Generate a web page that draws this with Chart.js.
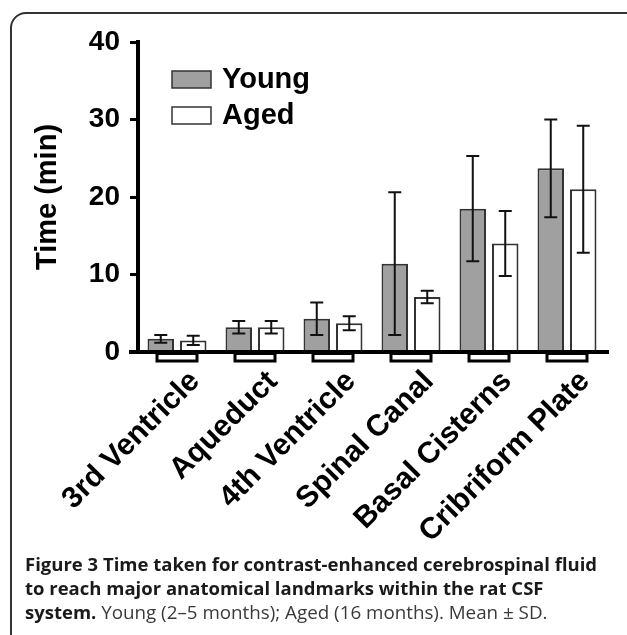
<!DOCTYPE html>
<html>
<head>
<meta charset="utf-8">
<script src="https://cdn.jsdelivr.net/npm/chart.js@4.4.1/dist/chart.umd.min.js"></script>
<style>
    html, body { margin: 0; padding: 0; background: #fff; }
    body { width: 627px; height: 635px; position: relative; overflow: hidden; }
    #frame {
        position: absolute; left: 10px; top: 12px; width: 680px; height: 700px;
        border: 2px solid #333; border-top-left-radius: 16px; box-sizing: border-box;
    }
    #chartBox { position: absolute; left: 0; top: 0; width: 627px; height: 560px; }
    #caption {
        position: absolute; left: 25px; top: 552px; width: 610px; margin: 0; white-space: nowrap;
        font-family: "Open Sans", sans-serif; font-size: 18.8px; line-height: 24px; color: #3a3a3a;
    }
    #caption b { font-weight: 700; font-size: 18.5px; color: #1a1a1a; }
</style>
</head>
<body>
<div id="frame"></div>
<div id="chartBox"><canvas id="timeChart"></canvas></div>
<p id="caption"><b>Figure 3 Time taken for contrast-enhanced cerebrospinal fluid<br>to reach major anatomical landmarks within the rat CSF<br>system.</b> Young (2–5 months); Aged (16 months). Mean ± SD.</p>
<script>
var landmarks = ['3rd Ventricle', 'Aqueduct', '4th Ventricle', 'Spinal Canal', 'Basal Cisterns', 'Cribriform Plate'];
var youngMean = [1.7, 3.2, 4.3, 11.4, 18.5, 23.7];
var youngSd = [0.5, 0.8, 2.1, 9.2, 6.8, 6.3];
var agedMean = [1.5, 3.2, 3.7, 7.1, 14.0, 21.0];
var agedSd = [0.6, 0.8, 0.9, 0.8, 4.2, 8.2];
var yTicks = [0, 10, 20, 30, 40];

var boldFont = '"Liberation Sans", Arial, sans-serif';

// error bars (mean +/- SD) on top of each bar
var errorBars = {
    id: 'errorBars',
    afterDatasetsDraw: function (chart) {
        var ctx = chart.ctx;
        var y = chart.scales.y;
        var sds = [youngSd, agedSd];
        ctx.save();
        ctx.strokeStyle = '#111';
        ctx.lineWidth = 2;
        chart.data.datasets.forEach(function (ds, d) {
            chart.getDatasetMeta(d).data.forEach(function (bar, i) {
                var top = y.getPixelForValue(ds.data[i] + sds[d][i]);
                var bot = y.getPixelForValue(ds.data[i] - sds[d][i]);
                ctx.beginPath();
                ctx.moveTo(bar.x, top); ctx.lineTo(bar.x, bot);
                ctx.moveTo(bar.x - 6.5, top); ctx.lineTo(bar.x + 6.5, top);
                ctx.moveTo(bar.x - 6.5, bot); ctx.lineTo(bar.x + 6.5, bot);
                ctx.stroke();
            });
        });
        ctx.restore();
    }
};

// bracket marks under each group, extended x axis line, legend
var decorations = {
    id: 'decorations',
    afterDraw: function (chart) {
        var ctx = chart.ctx;
        var x = chart.scales.x;
        var area = chart.chartArea;
        ctx.save();
        ctx.fillStyle = '#000';
        ctx.fillRect(area.left - 9, area.bottom - 2, area.right - area.left + 12, 4);
        ctx.strokeStyle = '#000';
        ctx.lineWidth = 3;
        landmarks.forEach(function (name, i) {
            var cx = x.getPixelForValue(i);
            ctx.strokeRect(cx - 20, area.bottom + 1.5, 40, 7.5);
        });

        ctx.font = 'bold 29px ' + boldFont;
        ctx.textBaseline = 'middle';
        ctx.lineWidth = 1.5;
        chart.data.datasets.forEach(function (ds, d) {
            var top = 71 + d * 36;
            ctx.fillStyle = ds.backgroundColor;
            ctx.fillRect(172, top, 39, 17);
            ctx.strokeStyle = '#333';
            ctx.strokeRect(172, top, 39, 17);
            ctx.fillStyle = '#000';
            ctx.fillText(ds.label, 222, top + 9);
        });
        ctx.restore();
    }
};

new Chart(document.getElementById('timeChart').getContext('2d'), {
    type: 'bar',
    data: {
        labels: landmarks,
        datasets: [{
            label: 'Young',
            data: youngMean,
            backgroundColor: '#a0a0a0',
            borderColor: '#333',
            borderWidth: 2,
            categoryPercentage: 0.833,
            barPercentage: 0.815
        }, {
            label: 'Aged',
            data: agedMean,
            backgroundColor: '#ffffff',
            borderColor: '#333',
            borderWidth: 2,
            categoryPercentage: 0.833,
            barPercentage: 0.815
        }]
    },
    options: {
        responsive: true,
        maintainAspectRatio: false,
        animation: false,
        layout: {
            padding: { top: 42, right: 21, left: 0, bottom: 0 }
        },
        plugins: {
            legend: { display: false },
            tooltip: { enabled: false }
        },
        scales: {
            x: {
                grid: { display: false },
                border: { display: false },
                ticks: {
                    color: '#000',
                    font: { family: boldFont, size: 30, weight: 'bold' },
                    maxRotation: 45,
                    minRotation: 45,
                    padding: 4,
                    labelOffset: 18
                },
                afterFit: function (scale) { scale.height = 208; }
            },
            y: {
                min: 0,
                max: 40,
                afterBuildTicks: function (scale) {
                    scale.ticks = yTicks.map(function (v) { return { value: v }; });
                },
                grid: {
                    drawOnChartArea: false,
                    drawTicks: true,
                    tickLength: 8,
                    tickWidth: 3,
                    tickColor: '#000'
                },
                border: { display: true, color: '#000', width: 4 },
                ticks: {
                    color: '#000',
                    font: { family: boldFont, size: 28, weight: 'bold' },
                    padding: 10
                },
                title: {
                    display: true,
                    text: 'Time (min)',
                    color: '#000',
                    font: { family: boldFont, size: 29, weight: 'bold' },
                    padding: { top: 31, bottom: 0 }
                },
                afterFit: function (scale) { scale.width = 138; }
            }
        }
    },
    plugins: [errorBars, decorations]
});
</script>
</body>
</html>
